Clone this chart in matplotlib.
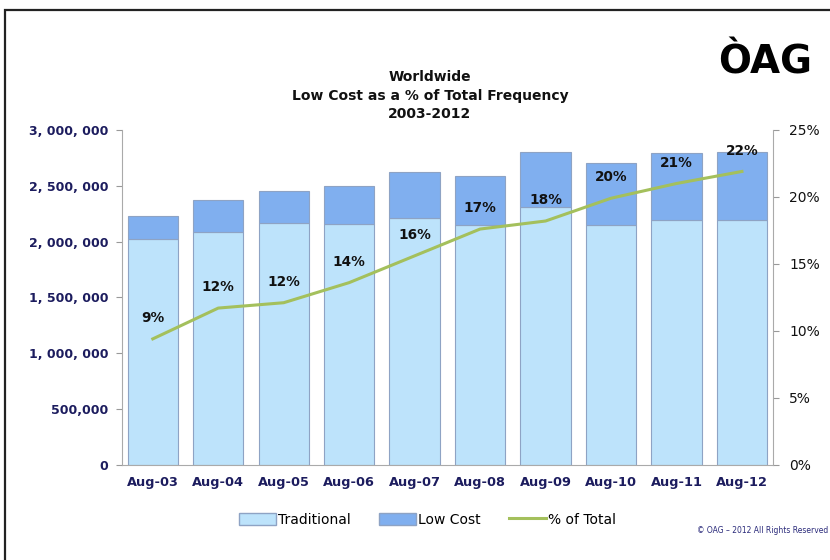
import matplotlib
matplotlib.use("Agg")
import matplotlib.pyplot as plt
from matplotlib.patches import Rectangle, Patch
from matplotlib.lines import Line2D
from matplotlib.ticker import FuncFormatter

categories = ["Aug-03", "Aug-04", "Aug-05", "Aug-06", "Aug-07",
              "Aug-08", "Aug-09", "Aug-10", "Aug-11", "Aug-12"]
traditional = [2020000, 2090000, 2165000, 2160000, 2215000,
               2145000, 2310000, 2150000, 2190000, 2190000]
low_cost = [210000, 285000, 290000, 335000, 405000,
            445000, 490000, 550000, 600000, 610000]
pct_total = [9.4, 11.7, 12.1, 13.6, 15.6, 17.6, 18.2, 19.9, 21.0, 21.9]
pct_labels = ["9%", "12%", "12%", "14%", "16%", "17%", "18%", "20%", "21%", "22%"]
left_ticks = [0, 500000, 1000000, 1500000, 2000000, 2500000, 3000000]
right_ticks = [0, 5, 10, 15, 20, 25]

c_trad = "#BDE3FB"
c_low = "#80AFEF"
c_edge = "#8EA3C4"
c_line = "#A4C05C"
navy = "#1C1C5E"

fig = plt.figure(figsize=(8.3, 5.6), dpi=100)
ax = fig.add_axes([0.147, 0.170, 0.784, 0.598])
x = range(len(categories))
w = 0.77
ax.bar(x, traditional, width=w, color=c_trad, edgecolor=c_edge, linewidth=0.8, zorder=2)
ax.bar(x, low_cost, width=w, bottom=traditional, color=c_low, edgecolor=c_edge,
       linewidth=0.8, zorder=2)
ax.set_xlim(-0.47, 9.47)
ax.set_ylim(0, 3000000)
ax.set_yticks(left_ticks)
ax.yaxis.set_major_formatter(FuncFormatter(lambda v, p: f"{int(v):,}".replace(",", ", ") if v >= 1000000 else f"{int(v):,}"))
ax.set_xticks(list(x))
ax.set_xticklabels(categories)
for lab in ax.get_xticklabels():
    lab.set_color(navy); lab.set_fontweight("bold"); lab.set_fontsize(9.3)
for lab in ax.get_yticklabels():
    lab.set_color(navy); lab.set_fontweight("bold"); lab.set_fontsize(9)
ax.tick_params(axis="x", length=0, pad=8)
ax.tick_params(axis="y", length=4, color="#999999", width=0.8, pad=6)
for s in ["top", "right"]:
    ax.spines[s].set_visible(False)
ax.spines["left"].set_color("#AAAAAA")
ax.spines["bottom"].set_color("#AAAAAA")

ax2 = ax.twinx()
ax2.plot(list(x), pct_total, color=c_line, linewidth=2.2, zorder=3)
ax2.set_ylim(0, 25)
ax2.set_yticks(right_ticks)
ax2.set_yticklabels([f"{t}%" for t in right_ticks], fontsize=10, color="#111111")
ax2.tick_params(axis="y", length=4, color="#999999", width=0.8, pad=8)
for s in ["top", "left", "bottom"]:
    ax2.spines[s].set_visible(False)
ax2.spines["right"].set_color("#AAAAAA")
for i, (v, t) in enumerate(zip(pct_total, pct_labels)):
    ax2.annotate(t, (i, v), xytext=(0, 10), textcoords="offset points",
                 ha="center", va="bottom", fontsize=9.8, fontweight="bold",
                 color="#111111", zorder=5)

fig.text(0.518, 0.829, "Worldwide\nLow Cost as a % of Total Frequency\n2003-2012",
         ha="center", va="center", fontsize=10, fontweight="bold",
         linespacing=1.4, color="#111111")
fig.text(0.922, 0.888, "ÒAG", ha="center", va="center", fontsize=28,
         fontweight="heavy", color="black", family="DejaVu Sans")

handles = [Patch(facecolor=c_trad, edgecolor=c_edge, label="Traditional"),
           Patch(facecolor=c_low, edgecolor=c_edge, label="Low Cost"),
           Line2D([0], [0], color=c_line, linewidth=2.2, label="% of Total")]
fig.legend(handles=handles, loc="center", bbox_to_anchor=(0.515, 0.072), ncol=3,
           frameon=False, fontsize=10, handlelength=2.7, handleheight=1.0,
           columnspacing=2.0, handletextpad=0.15)
fig.text(0.998, 0.052, "© OAG – 2012 All Rights Reserved", ha="right", va="center",
         fontsize=5.5, color="#2A2A7A")

fig.patches.append(Rectangle((5 / 830, -0.02), 1.1, 1 - 10 / 560 + 0.02,
                             transform=fig.transFigure, fill=False,
                             edgecolor="#222222", linewidth=1.6))
fig.savefig("out.png", dpi=100)
